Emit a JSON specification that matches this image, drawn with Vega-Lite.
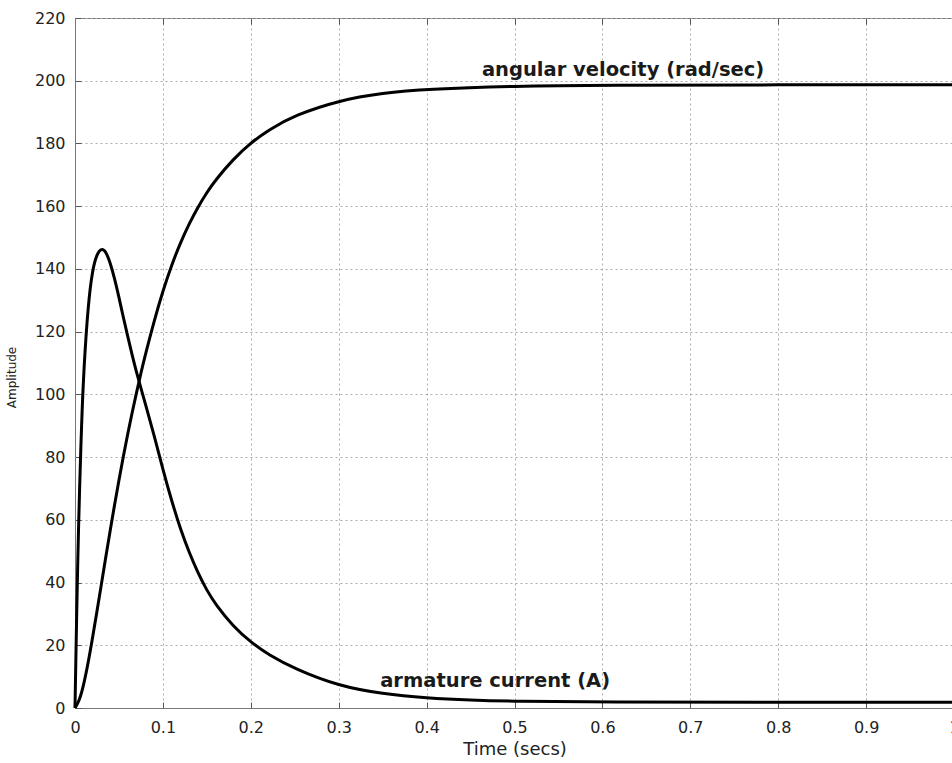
{
  "$schema": "https://vega.github.io/schema/vega-lite/v6.json",
  "width": 879,
  "height": 690,
  "autosize": "none",
  "padding": {"left": 75, "top": 18, "right": 0, "bottom": 55},
  "background": "white",
  "config": {
    "view": {"stroke": "#777", "strokeWidth": 1},
    "axis": {
      "labelFont": "DejaVu Sans",
      "labelFontSize": 16,
      "labelColor": "#222",
      "labelFlush": false,
      "titleFont": "DejaVu Sans",
      "titleFontWeight": "normal",
      "titleColor": "#222",
      "domainColor": "#777",
      "tickColor": "#555",
      "grid": true,
      "gridColor": "#aaa",
      "gridDash": [2, 3],
      "gridOpacity": 1,
      "gridWidth": 1
    }
  },
  "datasets": {
    "curves": [
      {"series": "current", "t": 0, "value": 0},
      {"series": "current", "t": 0.001, "value": 16},
      {"series": "current", "t": 0.002, "value": 31},
      {"series": "current", "t": 0.003, "value": 45},
      {"series": "current", "t": 0.004, "value": 57},
      {"series": "current", "t": 0.005, "value": 68},
      {"series": "current", "t": 0.0075, "value": 91},
      {"series": "current", "t": 0.01, "value": 108},
      {"series": "current", "t": 0.015, "value": 129},
      {"series": "current", "t": 0.02, "value": 140},
      {"series": "current", "t": 0.025, "value": 144.8},
      {"series": "current", "t": 0.03, "value": 146.6},
      {"series": "current", "t": 0.035, "value": 145.7},
      {"series": "current", "t": 0.04, "value": 142},
      {"series": "current", "t": 0.045, "value": 137},
      {"series": "current", "t": 0.05, "value": 131},
      {"series": "current", "t": 0.055, "value": 124.5},
      {"series": "current", "t": 0.06, "value": 118.5},
      {"series": "current", "t": 0.065, "value": 112.5},
      {"series": "current", "t": 0.07, "value": 107},
      {"series": "current", "t": 0.075, "value": 102},
      {"series": "current", "t": 0.08, "value": 97},
      {"series": "current", "t": 0.09, "value": 87},
      {"series": "current", "t": 0.1, "value": 76},
      {"series": "current", "t": 0.11, "value": 66},
      {"series": "current", "t": 0.12, "value": 57},
      {"series": "current", "t": 0.13, "value": 49.5},
      {"series": "current", "t": 0.14, "value": 43},
      {"series": "current", "t": 0.15, "value": 37.5},
      {"series": "current", "t": 0.16, "value": 33},
      {"series": "current", "t": 0.18, "value": 26},
      {"series": "current", "t": 0.2, "value": 21},
      {"series": "current", "t": 0.22, "value": 17},
      {"series": "current", "t": 0.25, "value": 12.5},
      {"series": "current", "t": 0.3, "value": 7},
      {"series": "current", "t": 0.35, "value": 4.5},
      {"series": "current", "t": 0.4, "value": 3.2},
      {"series": "current", "t": 0.45, "value": 2.5},
      {"series": "current", "t": 0.5, "value": 2.1},
      {"series": "current", "t": 0.6, "value": 1.9},
      {"series": "current", "t": 0.8, "value": 1.8},
      {"series": "current", "t": 1.0, "value": 1.8},
      {"series": "velocity", "t": 0, "value": 0},
      {"series": "velocity", "t": 0.005, "value": 2.3},
      {"series": "velocity", "t": 0.01, "value": 7.5},
      {"series": "velocity", "t": 0.015, "value": 14.4},
      {"series": "velocity", "t": 0.02, "value": 22.4},
      {"series": "velocity", "t": 0.025, "value": 30.8},
      {"series": "velocity", "t": 0.03, "value": 39.4},
      {"series": "velocity", "t": 0.035, "value": 48.1},
      {"series": "velocity", "t": 0.04, "value": 56.6},
      {"series": "velocity", "t": 0.045, "value": 64.8},
      {"series": "velocity", "t": 0.05, "value": 72.7},
      {"series": "velocity", "t": 0.055, "value": 80.3},
      {"series": "velocity", "t": 0.06, "value": 87.4},
      {"series": "velocity", "t": 0.065, "value": 94.2},
      {"series": "velocity", "t": 0.07, "value": 100.6},
      {"series": "velocity", "t": 0.075, "value": 106.8},
      {"series": "velocity", "t": 0.08, "value": 112.6},
      {"series": "velocity", "t": 0.09, "value": 123.4},
      {"series": "velocity", "t": 0.1, "value": 133},
      {"series": "velocity", "t": 0.11, "value": 141.3},
      {"series": "velocity", "t": 0.12, "value": 148.4},
      {"series": "velocity", "t": 0.13, "value": 154.5},
      {"series": "velocity", "t": 0.14, "value": 159.8},
      {"series": "velocity", "t": 0.15, "value": 164.4},
      {"series": "velocity", "t": 0.16, "value": 168.4},
      {"series": "velocity", "t": 0.18, "value": 175},
      {"series": "velocity", "t": 0.2, "value": 180.2},
      {"series": "velocity", "t": 0.22, "value": 184.3},
      {"series": "velocity", "t": 0.25, "value": 189},
      {"series": "velocity", "t": 0.3, "value": 193.7},
      {"series": "velocity", "t": 0.35, "value": 196.1},
      {"series": "velocity", "t": 0.4, "value": 197.3},
      {"series": "velocity", "t": 0.5, "value": 198.3},
      {"series": "velocity", "t": 0.6, "value": 198.6},
      {"series": "velocity", "t": 0.8, "value": 198.7},
      {"series": "velocity", "t": 1.0, "value": 198.7}
    ],
    "labels": [
      {"t": 0.6235, "value": 201.5, "label": "angular velocity (rad/sec)"},
      {"t": 0.478, "value": 6.8, "label": "armature current (A)"}
    ]
  },
  "layer": [
    {
      "data": {"name": "curves"},
      "mark": {"type": "line", "color": "black", "strokeWidth": 3, "interpolate": "basis"},
      "encoding": {
        "x": {
          "field": "t", "type": "quantitative",
          "scale": {"domain": [0, 1], "nice": false, "zero": false},
          "axis": {
            "orient": "bottom",
            "values": [0, 0.1, 0.2, 0.3, 0.4, 0.5, 0.6, 0.7, 0.8, 0.9, 1],
            "format": "~g",
            "tickSize": -6,
            "labelPadding": 17,
            "title": "Time (secs)",
            "titleFontSize": 18,
            "titleBaseline": "alphabetic",
            "titleY": 46
          }
        },
        "y": {
          "field": "value", "type": "quantitative",
          "scale": {"domain": [0, 220], "nice": false},
          "axis": {
            "orient": "left",
            "values": [0, 20, 40, 60, 80, 100, 120, 140, 160, 180, 200, 220],
            "tickSize": -6,
            "labelPadding": 16,
            "title": "Amplitude",
            "titleFontSize": 12,
            "titleX": -57,
            "titleY": 359,
            "titleAnchor": null
          }
        },
        "detail": {"field": "series"}
      }
    },
    {
      "data": {"name": "labels"},
      "mark": {"type": "text", "font": "DejaVu Sans", "fontWeight": "bold", "fontSize": 19.5, "color": "#1a1a1a", "baseline": "alphabetic", "align": "center"},
      "encoding": {
        "x": {
          "field": "t", "type": "quantitative",
          "axis": {"orient": "top", "values": [0, 0.1, 0.2, 0.3, 0.4, 0.5, 0.6, 0.7, 0.8, 0.9, 1], "labels": false, "grid": false, "domain": false, "tickSize": -6, "title": null}
        },
        "y": {"field": "value", "type": "quantitative"},
        "text": {"field": "label"}
      }
    }
  ],
  "resolve": {"axis": {"x": "independent"}}
}
